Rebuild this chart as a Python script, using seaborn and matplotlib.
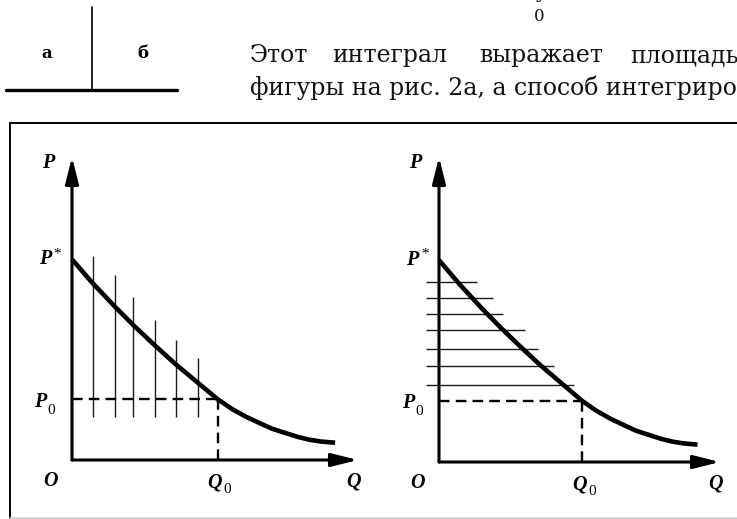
"""Consumer surplus sketch: textbook page with two demand-curve panels."""

import matplotlib

matplotlib.use("Agg")
import matplotlib.pyplot as plt
from matplotlib.lines import Line2D
import seaborn as sns

W, H = 737, 519

# demand curve, shared by both panels (axis units, axes run 0..10)
curve_q = [0.0, 0.7, 1.5, 2.2, 2.9, 3.6, 4.4, 5.1, 5.6, 6.1, 6.6, 7.0, 7.5, 7.9, 8.3, 8.7, 9.2]
curve_p = [6.62, 5.86, 5.06, 4.40, 3.78, 3.18, 2.55, 2.00, 1.68, 1.42, 1.20, 1.03, 0.88,
           0.76, 0.67, 0.61, 0.57]
q0, p0, p_star = 5.1, 2.0, 6.62
axis_len = 10.0

# panel "a": vertical strips
vert_q = [0.75, 1.5, 2.15, 2.9, 3.65, 4.4]
vert_top = [6.73, 6.1, 5.38, 4.62, 3.96, 3.37]
vert_bottom = 1.42

# panel "b": horizontal strips
horiz_p = [5.90, 5.38, 4.85, 4.33, 3.70, 3.15, 2.52]
horiz_left = -0.45
horiz_right = [1.35, 1.92, 2.28, 3.06, 3.52, 4.09, 4.80]

line1_words = ["Этот", "интеграл", "выражает", "площадь"]
line2_text = "фигуры на рис. 2а, а способ интегрирования"
panel_tags = ["а", "б"]

sns.set_style("white")
plt.rcParams["text.color"] = "black"


def fx(x):
    return x / W


def fy(y):
    return 1 - y / H


def make_panel(fig, box):
    x0, y0, x1, y1 = box
    return fig.add_axes([fx(x0), fy(y1), (x1 - x0) / W, (y1 - y0) / H])


def fit_panel(ax, box, origin, scale):
    x0, y0, x1, y1 = box
    ox, oy = origin
    sx, sy = scale
    ax.set_xlim((x0 - ox) / sx, (x1 - ox) / sx)
    ax.set_ylim((oy - y1) / sy, (oy - y0) / sy)
    ax.set_axis_off()


def draw_common(ax):
    arrow = dict(
        arrowstyle="-|>,head_length=0.8,head_width=0.2",
        color="black",
        lw=2.2,
        mutation_scale=20,
        shrinkA=0,
        shrinkB=0,
    )
    ax.annotate("", xy=(axis_len, 0), xytext=(0, 0), arrowprops=arrow)
    ax.annotate("", xy=(0, axis_len), xytext=(0, 0), arrowprops=arrow)

    sns.lineplot(
        x=curve_q, y=curve_p, ax=ax, color="black", linewidth=3.3,
        sort=False, estimator=None, solid_capstyle="butt",
        solid_joinstyle="round", zorder=5,
    )
    dash = dict(color="black", lw=1.7, ls=(0, (4.5, 2.6)), zorder=4)
    ax.plot([0, q0], [p0, p0], **dash)
    ax.plot([q0, q0], [0, p0], **dash)

    lab = dict(family="Liberation Serif", weight="bold", style="italic",
               size=14.5, ha="center", va="center", color="black")
    sub = dict(family="Liberation Serif", size=11, ha="center", va="center",
               textcoords="offset points", color="black")
    ax.text(-0.85, axis_len - 0.2, "P", **lab)
    ax.text(-0.95, p_star, "P", **lab)
    ax.annotate("*", xy=(-0.95, p_star), xytext=(9, 4), **sub)
    ax.text(-1.1, p0 - 0.08, "P", **lab)
    ax.annotate("0", xy=(-1.1, p0 - 0.08), xytext=(8, -6), **sub)
    ax.text(-0.75, -0.7, "O", **lab)
    ax.text(q0 - 0.1, -0.74, "Q", **lab)
    ax.annotate("0", xy=(q0 - 0.1, -0.74), xytext=(9, -5), **sub)
    ax.text(9.85, -0.7, "Q", **lab)


fig = plt.figure(figsize=(W / 100, H / 100), dpi=100)

# left panel: vertical strips
box_a = (12, 126, 372, 512)
ax_a = make_panel(fig, box_a)
draw_common(ax_a)
ax_a.vlines(vert_q, vert_bottom, vert_top, color="#1a1a1a", lw=1.0, zorder=3)
fit_panel(ax_a, box_a, (72, 460), (28.6, 30.3))

# right panel: horizontal strips
box_b = (380, 126, 737, 512)
ax_b = make_panel(fig, box_b)
draw_common(ax_b)
ax_b.hlines(horiz_p, horiz_left, horiz_right, color="#1a1a1a", lw=1.0, zorder=3)
fit_panel(ax_b, box_b, (439, 462), (28.1, 30.5))

# frame around the figure
fig.add_artist(Line2D([fx(10), fx(737)], [fy(123), fy(123)], color="black", lw=1.4))
fig.add_artist(Line2D([fx(10), fx(10)], [fy(123), fy(518)], color="black", lw=1.4))
fig.add_artist(Line2D([fx(10), fx(737)], [fy(518), fy(518)], color="#cccccc", lw=1.2))

# small "а | б" sketch at the top
fig.add_artist(Line2D([fx(6), fx(177)], [fy(90), fy(90)], color="black", lw=2.4))
fig.add_artist(Line2D([fx(92), fx(92)], [fy(7), fy(90)], color="black", lw=1.2))
tag = dict(family="DejaVu Serif", weight="bold", size=12, ha="center", va="center",
           color="black")
fig.text(fx(47), fy(53), panel_tags[0], **tag)
fig.text(fx(143), fy(53), panel_tags[1], **tag)

# body text
body = dict(family="DejaVu Serif", size=17, va="baseline", ha="left", color="#111111")
for word, x in zip(line1_words, [250, 332, 479, 630]):
    fig.text(fx(x), fy(62), word, **body)
fig.text(fx(250), fy(95), line2_text, **body)
fig.text(fx(539), fy(21), "0", family="DejaVu Serif", size=12, ha="center",
         va="baseline", color="#111111")
fig.text(fx(541), fy(-2), "y", family="DejaVu Serif", size=14, ha="center",
         va="baseline", color="#111111")

fig.savefig("out.png", dpi=100)
plt.close(fig)
